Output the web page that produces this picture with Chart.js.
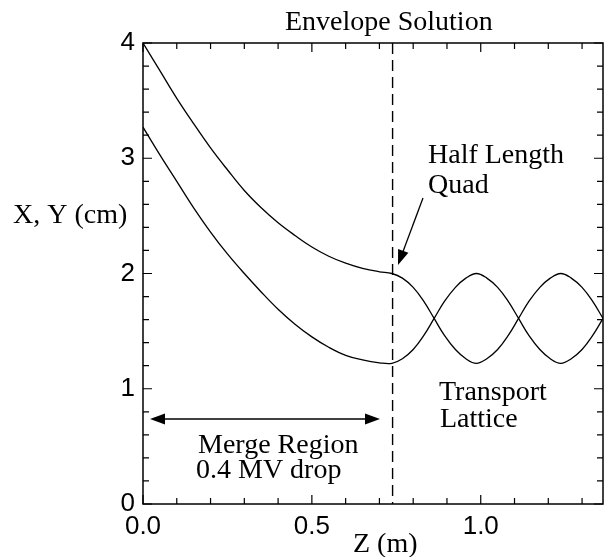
<!DOCTYPE html>
<html>
<head>
<meta charset="utf-8">
<script src="https://cdn.jsdelivr.net/npm/chart.js@4"></script>
<style>
  html, body { margin: 0; padding: 0; background: #fff; }
  canvas { display: block; }
</style>
</head>
<body>
<canvas id="envelopeChart" width="607" height="557"></canvas>
<script>
// Values
const zValues = [0, 0.05, 0.10, 0.15, 0.20, 0.25, 0.30, 0.35, 0.40, 0.45, 0.50, 0.55, 0.60, 0.65, 0.70, 0.737,
    0.768, 0.800, 0.831, 0.862, 0.893, 0.925, 0.956, 0.987, 1.018, 1.050, 1.081, 1.112,
    1.143, 1.175, 1.206, 1.237, 1.268, 1.300, 1.331, 1.362];
const xEnvelope = [4.00, 3.76, 3.52, 3.30, 3.09, 2.90, 2.72, 2.57, 2.44, 2.33, 2.23, 2.15, 2.09, 2.045, 2.015, 2.00,
    1.96, 1.88, 1.76, 1.61, 1.46, 1.34, 1.26, 1.22, 1.26, 1.34, 1.46, 1.61,
    1.76, 1.88, 1.96, 2.00, 1.96, 1.88, 1.76, 1.61];
const yEnvelope = [3.27, 3.03, 2.80, 2.57, 2.36, 2.17, 2.00, 1.84, 1.69, 1.56, 1.45, 1.36, 1.29, 1.25, 1.225, 1.22,
    1.26, 1.34, 1.46, 1.61, 1.76, 1.88, 1.96, 2.00, 1.96, 1.88, 1.76, 1.61,
    1.46, 1.34, 1.26, 1.22, 1.26, 1.34, 1.46, 1.61];
const xTickValues = [0, 0.5, 1.0];
const xTickLabels = ['0.0', '0.5', '1.0'];
const yTickValues = [0, 1, 2, 3, 4];
const yTickLabels = ['0', '1', '2', '3', '4'];
const quadPosition = 0.739;

const serif = '"Liberation Serif", "Times New Roman", serif';
const sans = '"Liberation Sans", Arial, sans-serif';

// Frame, inward ticks, dashed marker and text annotations
const decorations = {
    id: 'decorations',
    afterDraw(chart) {
        const ctx = chart.ctx;
        const area = chart.chartArea;
        const xs = chart.scales.x;
        const ys = chart.scales.y;
        ctx.save();
        ctx.strokeStyle = '#000';
        ctx.fillStyle = '#000';

        // frame
        ctx.lineWidth = 1.5;
        ctx.strokeRect(area.left, area.top, area.right - area.left, area.bottom - area.top);

        // ticks on all four sides
        ctx.lineWidth = 1.2;
        ctx.beginPath();
        for (let i = 0; i <= 13; i++) {
            const px = xs.getPixelForValue(i / 10);
            const len = (i % 5 === 0) ? 9 : 6;
            ctx.moveTo(px, area.bottom); ctx.lineTo(px, area.bottom - len);
            ctx.moveTo(px, area.top); ctx.lineTo(px, area.top + len);
        }
        for (let i = 0; i <= 20; i++) {
            const py = ys.getPixelForValue(i / 5);
            const len = (i % 5 === 0) ? 9 : 6;
            ctx.moveTo(area.left, py); ctx.lineTo(area.left + len, py);
            ctx.moveTo(area.right, py); ctx.lineTo(area.right - len, py);
        }
        ctx.stroke();

        // dashed line at the half length quad
        const qx = xs.getPixelForValue(quadPosition);
        ctx.lineWidth = 1.4;
        ctx.setLineDash([11, 6]);
        ctx.beginPath();
        ctx.moveTo(qx, area.top);
        ctx.lineTo(qx, area.bottom);
        ctx.stroke();
        ctx.setLineDash([]);

        // arrow to the quad
        drawArrow(ctx, 423, 198, 398, 265);
        // merge region double arrow
        drawArrow(ctx, 265, 419, 150, 419);
        drawArrow(ctx, 265, 419, 380, 419);

        // texts
        ctx.font = '28px ' + serif;
        ctx.textBaseline = 'alphabetic';
        ctx.textAlign = 'left';
        ctx.fillText('Envelope Solution', 285, 30);
        ctx.fillText('X, Y (cm)', 13, 223);
        ctx.fillText('Z (m)', 353, 552);
        ctx.fillText('Half Length', 428, 163);
        ctx.fillText('Quad', 428, 193);
        ctx.fillText('Merge Region', 198, 453);
        ctx.fillText('0.4 MV drop', 196, 478);
        ctx.fillText('Transport', 439, 400);
        ctx.fillText('Lattice', 440, 427);
        ctx.restore();
    }
};

function drawArrow(ctx, x1, y1, x2, y2) {
    const ang = Math.atan2(y2 - y1, x2 - x1);
    const headLen = 15, headW = 5.5;
    ctx.lineWidth = 1.3;
    ctx.beginPath();
    ctx.moveTo(x1, y1);
    ctx.lineTo(x2 - Math.cos(ang) * headLen * 0.8, y2 - Math.sin(ang) * headLen * 0.8);
    ctx.stroke();
    ctx.beginPath();
    ctx.moveTo(x2, y2);
    ctx.lineTo(x2 - Math.cos(ang) * headLen - Math.sin(ang) * headW, y2 - Math.sin(ang) * headLen + Math.cos(ang) * headW);
    ctx.lineTo(x2 - Math.cos(ang) * headLen + Math.sin(ang) * headW, y2 - Math.sin(ang) * headLen - Math.cos(ang) * headW);
    ctx.closePath();
    ctx.fill();
}

const canvas = document.getElementById('envelopeChart');
new Chart(canvas, {
    type: 'line',
    data: {
        datasets: [{
            label: 'X',
            data: zValues.map((z, i) => ({ x: z, y: xEnvelope[i] })),
            borderColor: '#000',
            borderWidth: 1.3,
            pointRadius: 0,
            tension: 0.4,
            fill: false
        }, {
            label: 'Y',
            data: zValues.map((z, i) => ({ x: z, y: yEnvelope[i] })),
            borderColor: '#000',
            borderWidth: 1.3,
            pointRadius: 0,
            tension: 0.4,
            fill: false
        }]
    },
    options: {
        responsive: false,
        animation: false,
        devicePixelRatio: 1,
        layout: { padding: { left: 0, top: 43, right: 4, bottom: 0 } },
        plugins: { legend: { display: false }, tooltip: { enabled: false } },
        scales: {
            x: {
                type: 'linear',
                min: 0,
                max: 1.362,
                grid: { display: false, drawTicks: false },
                border: { display: false },
                afterBuildTicks: function(scale) {
                    scale.ticks = xTickValues.map(v => ({ value: v }));
                },
                afterFit: function(scale) { scale.height = 53; },
                ticks: {
                    autoSkip: false,
                    maxRotation: 0,
                    padding: 7,
                    color: '#000',
                    font: { family: sans, size: 26 },
                    callback: function(value) {
                        const i = xTickValues.indexOf(value);
                        return i >= 0 ? xTickLabels[i] : '';
                    }
                }
            },
            y: {
                min: 0,
                max: 4,
                grid: { display: false, drawTicks: false },
                border: { display: false },
                afterBuildTicks: function(scale) {
                    scale.ticks = yTickValues.map(v => ({ value: v }));
                },
                afterFit: function(scale) { scale.width = 143; },
                ticks: {
                    padding: 8,
                    color: '#000',
                    font: { family: sans, size: 26 },
                    callback: function(value) {
                        const i = yTickValues.indexOf(value);
                        return i >= 0 ? yTickLabels[i] : '';
                    }
                }
            }
        }
    },
    plugins: [decorations]
});
</script>
</body>
</html>
